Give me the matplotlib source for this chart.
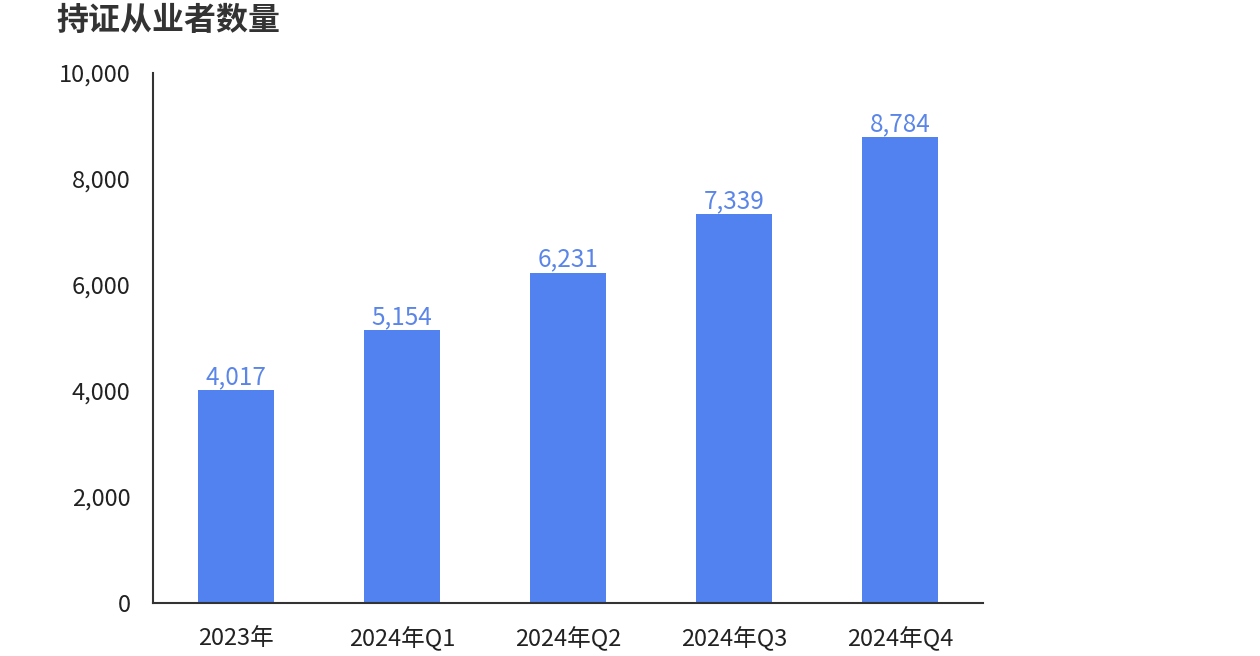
import matplotlib
matplotlib.use("Agg")
import matplotlib.pyplot as plt

plt.rcParams['font.family'] = ['Noto Sans CJK SC', 'DejaVu Sans']

categories = ['2023年', '2024年Q1', '2024年Q2', '2024年Q3', '2024年Q4']
values = [4017, 5154, 6231, 7339, 8784]
yticks = [0, 2000, 4000, 6000, 8000, 10000]

bar_color = '#5282f0'
label_color = '#5b86e8'
axis_color = '#333333'

fig = plt.figure(figsize=(12.6, 6.56), dpi=100)
ax = fig.add_axes([0.1214, 0.0808, 0.6587, 0.8079])

x = range(len(categories))
bars = ax.bar(x, values, width=0.46, color=bar_color)
ax.bar_label(bars, labels=[f'{v:,}' for v in values], padding=0,
             color=label_color, fontsize=17.5)

ax.set_xlim(-0.5, len(categories) - 0.5)
ax.set_ylim(0, 10000)
ax.set_yticks(yticks)
ax.set_yticklabels([f'{t:,}' for t in yticks])
ax.set_xticks(list(x))
ax.set_xticklabels(categories)

ax.tick_params(axis='both', length=0, labelsize=17, colors='#222222')
ax.tick_params(axis='y', pad=16)
ax.tick_params(axis='x', pad=17)
for side in ['top', 'right']:
    ax.spines[side].set_visible(False)
for side in ['left', 'bottom']:
    ax.spines[side].set_color(axis_color)
    ax.spines[side].set_linewidth(1.5)

fig.text(0.045, 0.968, '持证从业者数量', fontsize=23, fontweight='bold',
         color='#333333', va='center', ha='left')

fig.savefig('out.png', dpi=100)
